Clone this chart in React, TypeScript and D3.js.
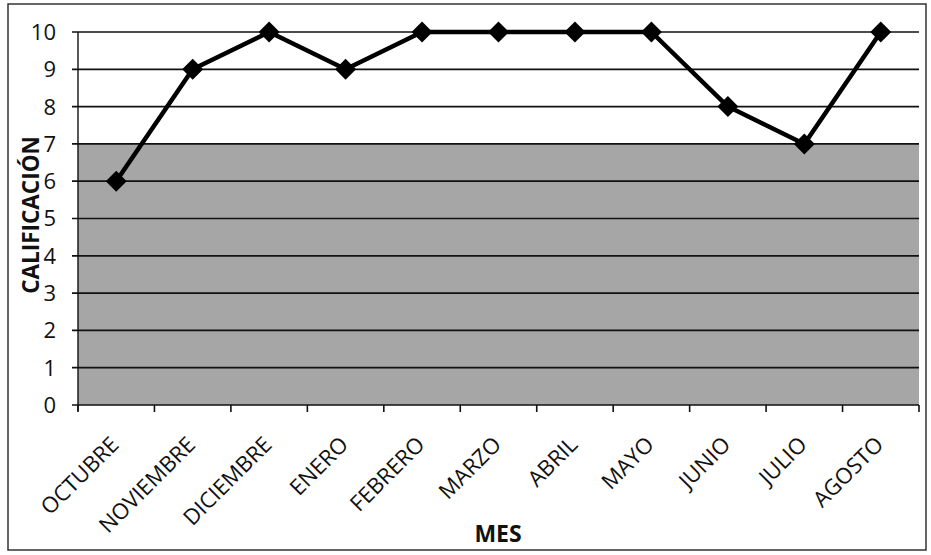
import React from "react";
import * as d3 from "d3";

const months = ["OCTUBRE","NOVIEMBRE","DICIEMBRE","ENERO","FEBRERO","MARZO","ABRIL","MAYO","JUNIO","JULIO","AGOSTO"];
const grades = [6, 9, 10, 9, 10, 10, 10, 10, 8, 7, 10];
const yTicks = [0,1,2,3,4,5,6,7,8,9,10];
const shadedMax = 7;
const yTitle = "CALIFICACIÓN";
const xTitle = "MES";

export default function App() {
  const W = 931, H = 555;
  const left = 78, right = 919, top = 32, bottom = 405;
  const x = d3.scaleBand<string>().domain(months).range([left, right]).padding(0);
  const y = d3.scaleLinear().domain([0, 10]).range([bottom, top]);
  const cx = (m: string) => (x(m) as number) + x.bandwidth() / 2;
  const line = d3.line<number>().x((_, i) => cx(months[i])).y(d => y(d));
  const font = "'Open Sans', sans-serif";
  const boundaries = months.map(m => x(m) as number).concat([right]);
  const diamond = d3.symbol().type(d3.symbolDiamond2).size(280)();

  return (
    <svg width={W} height={H} style={{ position: "absolute", left: 0, top: 0, background: "#fff" }}>
      <rect x={8} y={4} width={918} height={546} fill="none" stroke="#333" strokeWidth={1.5} />
      <rect x={left} y={y(shadedMax)} width={right - left} height={bottom - y(shadedMax)} fill="#a6a6a6" />
      {yTicks.map(t => (
        <g key={t}>
          <line x1={left - 6} x2={right} y1={y(t)} y2={y(t)} stroke="#111" strokeWidth={1.7} />
          <text x={56} y={y(t)} dy="0.36em" textAnchor="end" fontFamily={font} fontSize={22} fill="#111">{t}</text>
        </g>
      ))}
      <line x1={left} x2={left} y1={top} y2={bottom + 6} stroke="#111" strokeWidth={1.4} />
      {boundaries.map((b, i) => (
        <line key={i} x1={b} x2={b} y1={bottom} y2={bottom + 7} stroke="#111" strokeWidth={1.6} />
      ))}
      {months.map(m => (
        <text key={m} transform={`translate(${cx(m) + 4},${bottom + 41}) rotate(-45)`} textAnchor="end"
          fontFamily={font} fontSize={22} fill="#111">{m}</text>
      ))}
      <path d={line(grades) as string} fill="none" stroke="#000" strokeWidth={4.5} strokeLinejoin="round" />
      {grades.map((g, i) => (
        <path key={i} d={diamond as string} transform={`translate(${cx(months[i])},${y(g)})`} fill="#000" />
      ))}
      <text transform={`translate(39,215) rotate(-90)`} textAnchor="middle" fontFamily={font} fontWeight="bold" fontSize={22.5} fill="#111">{yTitle}</text>
      <text x={498} y={542} textAnchor="middle" fontFamily={font} fontWeight="bold" fontSize={23} fill="#111">{xTitle}</text>
    </svg>
  );
}
